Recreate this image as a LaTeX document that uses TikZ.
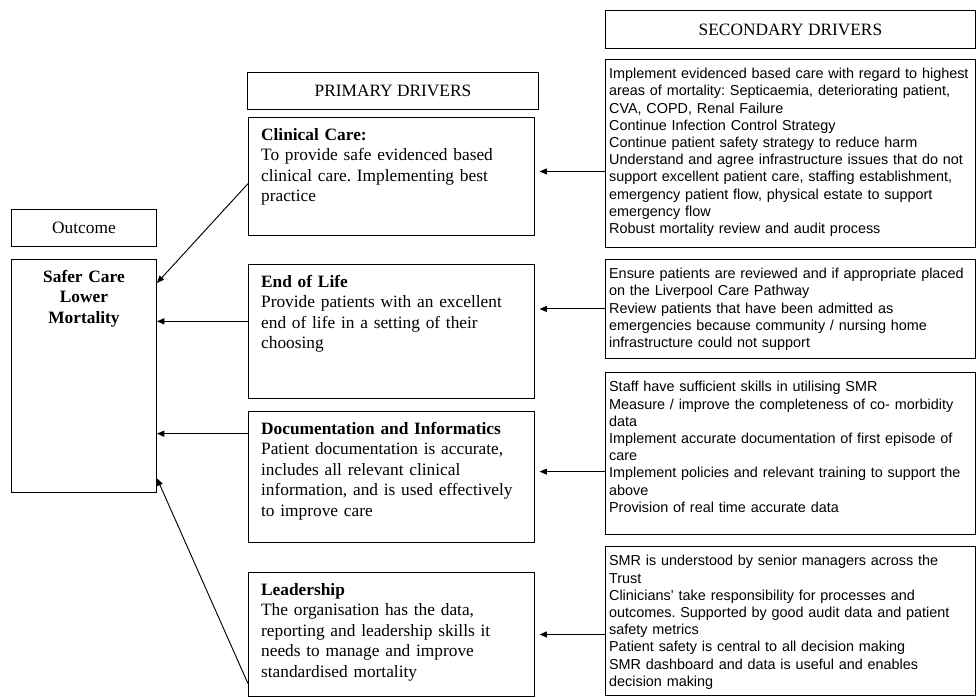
\documentclass[tikz,border=0pt]{standalone}
\usepackage{fontspec}
\setmainfont{Liberation Serif}
\newfontfamily\arialfont{Liberation Sans}
\usetikzlibrary{arrows.meta}
\frenchspacing

\begin{document}
\begin{tikzpicture}[x=0.75pt, y=-0.75pt, line width=0.7pt,
    hdr/.style={draw, anchor=north west, inner sep=0pt, font=\fontsize{13}{15.4}\selectfont},
    pri/.style={draw, anchor=north west, align=left, text width=195.5pt, inner xsep=9.5pt, inner ysep=4pt, text height=13pt, font=\fontsize{13}{15.4}\selectfont},
    sec/.style={draw, anchor=north west, align=left, text width=272pt, inner xsep=2.75pt, inner ysep=3.5pt, text height=11pt, font=\arialfont\fontsize{10.8}{12.9}\selectfont},
    arr/.style={-{Triangle[length=5.5pt,width=4.5pt]}}]
    % Page
    \useasboundingbox (0,0) rectangle (977,698);

    % Outcome
    \node[hdr, minimum width=108.75pt, minimum height=27.75pt] (outh) at (11,209) {Outcome};
    \node[draw, anchor=north west, align=center, text width=100pt, inner xsep=4.375pt, inner ysep=4pt, text height=13pt, text depth=153.75pt, font=\bfseries\fontsize{13}{15.4}\selectfont] (safe) at (11,259) {Safer Care\\ Lower\\ Mortality};

    % Primary drivers
    \node[hdr, minimum width=218.25pt, minimum height=27.75pt] (prih) at (247,72) {PRIMARY DRIVERS};
    \node[pri, text depth=67.5pt] (clin) at (248,117) {\textbf{Clinical Care:}\\ To provide safe evidenced based\\ clinical care. Implementing best\\ practice};
    \node[pri, text depth=79.5pt] (eol) at (248,264) {\textbf{End of Life}\\ Provide patients with an excellent\\ end of life in a setting of their\\ choosing};
    \node[pri, text depth=77.25pt] (doc) at (248,411) {\textbf{Documentation and Informatics}\\ Patient documentation is accurate,\\ includes all relevant clinical\\ information, and is used effectively\\ to improve care};
    \node[pri, text depth=72pt] (lead) at (248,572) {\textbf{Leadership}\\ The organisation has the data,\\ reporting and leadership skills it\\ needs to manage and improve\\ standardised mortality};

    % Secondary drivers
    \node[hdr, minimum width=277.5pt, minimum height=28.5pt] (sech) at (605,10) {SECONDARY DRIVERS};
    \node[sec, text depth=123pt] (sec1) at (605,59) {Implement evidenced based care with regard to highest\\ areas of mortality: Septicaemia, deteriorating patient,\\ CVA, COPD, Renal Failure\\ Continue Infection Control Strategy\\ Continue patient safety strategy to reduce harm\\ Understand and agree infrastructure issues that do not\\ support excellent patient care, staffing establishment,\\ emergency patient flow, physical estate to support\\ emergency flow\\ Robust mortality review and audit process};
    \node[sec, text depth=56.25pt] (sec2) at (605,259) {Ensure patients are reviewed and if appropriate placed\\ on the Liverpool Care Pathway\\ Review patients that have been admitted as\\ emergencies because community / nursing home\\ infrastructure could not support};
    \node[sec, text depth=103.5pt] (sec3) at (605,372) {Staff have sufficient skills in utilising SMR\\ Measure / improve the completeness of co- morbidity\\ data\\ Implement accurate documentation of first episode of\\ care\\ Implement policies and relevant training to support the\\ above\\ Provision of real time accurate data};
    \node[sec, text depth=93.75pt] (sec4) at (605,546) {SMR is understood by senior managers across the\\ Trust\\ Clinicians’ take responsibility for processes and\\ outcomes. Supported by good audit data and patient\\ safety metrics\\ Patient safety is central to all decision making\\ SMR dashboard and data is useful and enables\\ decision making};

    % Secondary -> primary
    \draw[arr, shorten >=3.5pt] ([yshift=3.75pt]clin.east -| sec1.west) -- ([yshift=3.75pt]clin.east);
    \draw[arr, shorten >=3.5pt] (sec2.west) -- (sec2.west -| eol.east);
    \draw[arr, shorten >=3.5pt] ([yshift=4pt]doc.east -| sec3.west) -- ([yshift=4pt]doc.east);
    \draw[arr, shorten >=3.5pt] (lead.east -| sec4.west) -- (lead.east);

    % Primary -> outcome
    \path ([yshift=-43pt]eol.north west) coordinate (eolL);
    \path ([yshift=-17pt]doc.north west) coordinate (docL);
    \draw[arr] ([yshift=-50pt]clin.north west) -- ([yshift=-18pt]safe.north east);
    \draw[arr] (eolL) -- (eolL -| safe.east);
    \draw[arr] (docL) -- (docL -| safe.east);
    \draw[arr] ([yshift=10pt]lead.south west) -- ([yshift=11pt]safe.south east);
\end{tikzpicture}
\end{document}
